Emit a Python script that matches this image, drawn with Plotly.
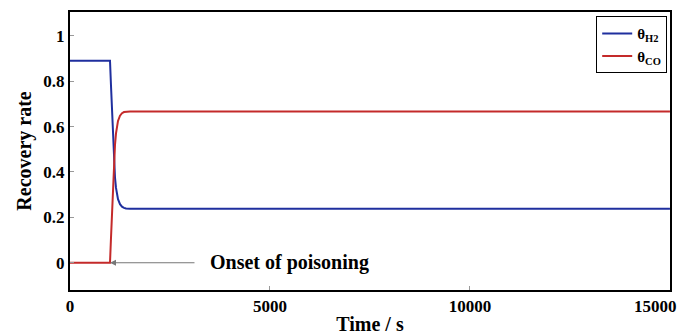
import plotly.graph_objects as go

time_h2 = [0, 1000, 1025, 1050, 1075, 1100, 1125, 1150, 1175, 1200, 1250, 1300, 1350, 1400, 1500, 15000]
theta_h2 = [0.89, 0.89, 0.78, 0.66, 0.55, 0.44, 0.375, 0.33, 0.30, 0.28, 0.258, 0.247, 0.242, 0.239, 0.238, 0.238]
time_co = [0, 1000, 1025, 1050, 1075, 1100, 1125, 1150, 1175, 1200, 1250, 1300, 1350, 1400, 1500, 15000]
theta_co = [0, 0, 0.11, 0.22, 0.33, 0.44, 0.52, 0.57, 0.605, 0.625, 0.648, 0.659, 0.664, 0.666, 0.667, 0.667]
x_ticks = [0, 5000, 10000, 15000]
x_labels = ["0", "5000", "10000", "15000"]
y_ticks = [0, 0.2, 0.4, 0.6, 0.8, 1]
y_labels = ["0", "0.2", "0.4", "0.6", "0.8", "1"]

FONT = "Liberation Serif"
fig = go.Figure()
fig.add_trace(go.Scatter(x=time_h2, y=theta_h2, mode="lines", line=dict(color="#1f2f9e", width=2),
                         name="<b>θ<sub>H2</sub></b>"))
fig.add_trace(go.Scatter(x=time_co, y=theta_co, mode="lines", line=dict(color="#c42a2a", width=2),
                         name="<b>θ<sub>CO</sub></b>"))

fig.add_annotation(x=1000, y=0, ax=3150, ay=0, axref="x", ayref="y", xref="x", yref="y",
                   showarrow=True, arrowhead=2, arrowsize=1, arrowwidth=1.2, arrowcolor="#777777", text="")
fig.add_annotation(x=3450, y=0, xref="x", yref="y", text="<b>Onset of poisoning</b>", showarrow=False,
                   xanchor="left", yanchor="middle", font=dict(family=FONT, size=20, color="black"))

# last x tick label, right-aligned so it stays inside the page
tick_text = ["<b>%s</b>" % s for s in x_labels]
fig.add_annotation(x=x_ticks[-1], y=0, xref="x", yref="paper", text=tick_text[-1], showarrow=False,
                   xanchor="right", yanchor="top", xshift=9, yshift=-5,
                   font=dict(family=FONT, size=17, color="black"))
tick_text[-1] = ""

axis_common = dict(showline=True, linecolor="black", linewidth=2, mirror=True, showgrid=False, zeroline=False,
                   automargin=False, ticks="inside", ticklen=4, tickcolor="#999999",
                   tickfont=dict(family=FONT, size=17, color="black"))
fig.update_xaxes(range=[0, 15001], tickvals=x_ticks, ticktext=tick_text,
                 title=dict(text="<b>Time / s</b>", font=dict(family=FONT, size=20, color="black"), standoff=4),
                 **axis_common)
fig.update_yaxes(range=[-0.12, 1.105], tickvals=y_ticks, ticktext=["<b>%s</b>" % s for s in y_labels],
                 title=dict(text="<b>Recovery rate</b>", font=dict(family=FONT, size=20, color="black"), standoff=6),
                 **axis_common)
fig.update_layout(width=686, height=335, margin=dict(l=70, r=16, t=12, b=45),
                  plot_bgcolor="white", paper_bgcolor="white",
                  legend=dict(x=0.877, y=0.985, xanchor="left", yanchor="top", bordercolor="black", borderwidth=1,
                              bgcolor="white", font=dict(family=FONT, size=15, color="black"),
                              tracegroupgap=0, itemwidth=30))
fig.write_html("out.html")
